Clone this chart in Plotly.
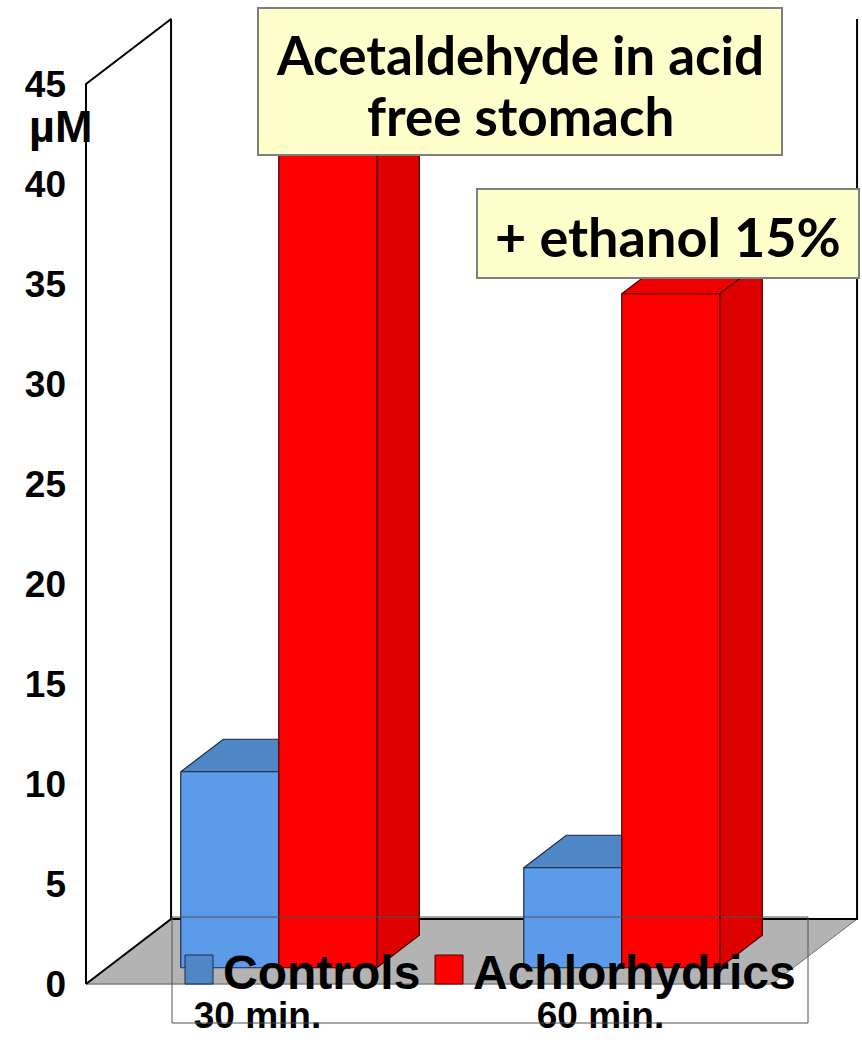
import plotly.graph_objects as go

# ---- data -------------------------------------------------------------
categories = ["30 min.", "60 min."]
series_names = ["Controls", "Achlorhydrics"]
controls = [9.8, 5.0]
achlorhydrics = [44.0, 33.7]
y_ticks = [0, 5, 10, 15, 20, 25, 30, 35, 40, 45]

# ---- pseudo-3D scene geometry (axis units) ----------------------------
FLOOR_DX, FLOOR_DY = 0.248, 3.25    # depth vector: x in category units, y in µM
Y_TOP = 45
BAR_W = 2 / 7
BAR_FRONT, BAR_BACK = 0.25, 0.75    # bars sit in the middle half of the depth

BLUE = dict(front="#5B9BEA", top="#4F86C6", side="#3F6FA8", edge="#1C2B48")
RED = dict(front="#FF0000", top="#EE0000", side="#DD0000", edge="#4A0000")

W, H = 862, 1040
ML, MR, MT, MB = 80, 0, 0, 40

FONT_SANS = "Liberation Sans, Arial, sans-serif"
FONT_TITLE = "Lato, Carlito, sans-serif"


def px_x(p):
    return (p - ML) / (W - ML - MR)


def px_y(p):
    return 1 - (p - MT) / (H - MT - MB)


def poly(xs, ys, fill, line_color=None, lw=0):
    return go.Scatter(
        x=list(xs) + [xs[0]], y=list(ys) + [ys[0]],
        mode="lines", fill="toself", fillcolor=fill,
        line=dict(color=line_color or fill, width=lw),
        hoverinfo="skip", showlegend=False,
    )


def seg(xs, ys, color, lw):
    return go.Scatter(x=xs, y=ys, mode="lines", line=dict(color=color, width=lw),
                      hoverinfo="skip", showlegend=False)


fig = go.Figure()

x_left, x_right = -0.5, len(categories) - 0.5

# floor
fig.add_trace(poly([x_left, x_right, x_right + FLOOR_DX, x_left + FLOOR_DX],
                   [0, 0, FLOOR_DY, FLOOR_DY], "#B3B3B3"))
fig.add_trace(seg([x_left, x_right], [0, 0], "#808080", 1.5))
fig.add_trace(seg([x_right, x_right + FLOOR_DX], [0, FLOOR_DY], "#707070", 1))

# back wall edges
fig.add_trace(seg([x_left + FLOOR_DX, x_right + FLOOR_DX, x_right + FLOOR_DX],
                  [FLOOR_DY, FLOOR_DY, Y_TOP + FLOOR_DY], "black", 2))

# left wall
fig.add_trace(poly([x_left, x_left, x_left + FLOOR_DX, x_left + FLOOR_DX],
                   [0, Y_TOP, Y_TOP + FLOOR_DY, FLOOR_DY], "white", "black", 2))

# bars: side, top, front faces for each series, back to front
dx = (BAR_BACK - BAR_FRONT) * FLOOR_DX
dy = (BAR_BACK - BAR_FRONT) * FLOOR_DY
for i in range(len(categories)):
    for vals, col, off in [(controls, BLUE, -BAR_W), (achlorhydrics, RED, 0.0)]:
        v = vals[i]
        x0 = i + off + BAR_FRONT * FLOOR_DX
        x1 = x0 + BAR_W
        y0 = BAR_FRONT * FLOOR_DY
        y1 = y0 + v
        fig.add_trace(poly([x1, x1 + dx, x1 + dx, x1], [y0, y0 + dy, y1 + dy, y1],
                           col["side"], col["edge"], 1.2))
        fig.add_trace(poly([x0, x1, x1 + dx, x0 + dx], [y1, y1, y1 + dy, y1 + dy],
                           col["top"], col["edge"], 1.2))
        fig.add_trace(poly([x0, x1, x1, x0], [y0, y0, y1, y1],
                           col["front"], col["edge"], 1.2))


def box(x0, x1, y0, y1):
    return dict(type="rect", xref="paper", yref="paper", layer="above",
                x0=px_x(x0), x1=px_x(x1), y0=px_y(y1), y1=px_y(y0),
                line=dict(color="#7F7F7F", width=2), fillcolor="#FFFFCC")


def label(text, x, y, size, family, anchor="center"):
    return dict(text=text, x=px_x(x), y=px_y(y), xref="paper", yref="paper",
                xanchor=anchor, yanchor="middle", showarrow=False,
                font=dict(family=family, size=size, color="black", weight="bold"))


shapes = [
    # legend frame and swatches
    dict(type="rect", xref="paper", yref="paper", layer="above",
         x0=px_x(172), x1=px_x(808), y0=px_y(1023), y1=px_y(917),
         line=dict(color="#505050", width=1), fillcolor="rgba(0,0,0,0)"),
    dict(type="rect", xref="paper", yref="paper", layer="above",
         x0=px_x(185), x1=px_x(213), y0=px_y(984), y1=px_y(955),
         line=dict(color=BLUE["edge"], width=1), fillcolor=BLUE["top"]),
    dict(type="rect", xref="paper", yref="paper", layer="above",
         x0=px_x(435), x1=px_x(463), y0=px_y(984), y1=px_y(955),
         line=dict(color=RED["edge"], width=1), fillcolor=RED["front"]),
    # title boxes
    box(258, 782, 8, 155),
    box(477, 859, 189, 278),
]

annotations = [
    label(series_names[0], 221, 972, 48, FONT_SANS, "left"),
    label(series_names[1], 471, 972, 48, FONT_SANS, "left"),
    label("µM", 60, 126, 45, FONT_SANS),
    label("Acetaldehyde in acid", 520, 54, 53, FONT_TITLE),
    label("free stomach", 520, 116, 53, FONT_TITLE),
    label("+ ethanol 15%", 668, 236, 54, FONT_TITLE),
]

fig.update_layout(
    width=W, height=H,
    margin=dict(l=ML, r=MR, t=MT, b=MB),
    paper_bgcolor="white", plot_bgcolor="white",
    showlegend=False,
    shapes=shapes, annotations=annotations,
    xaxis=dict(range=[(ML - 257.5) / 343, (W - MR - 257.5) / 343],
               tickvals=list(range(len(categories))), ticktext=categories,
               showgrid=False, zeroline=False, showline=False, ticks="",
               automargin=False, ticklabelstandoff=-10,
               tickfont=dict(family=FONT_SANS, size=37, color="black", weight="bold")),
    yaxis=dict(range=[-0.8, 49.2], tickvals=y_ticks,
               showgrid=False, zeroline=False, showline=False, ticks="",
               ticklabelstandoff=13, automargin=False,
               tickfont=dict(family=FONT_SANS, size=37, color="black", weight="bold")),
)

fig.write_html("out.html")
